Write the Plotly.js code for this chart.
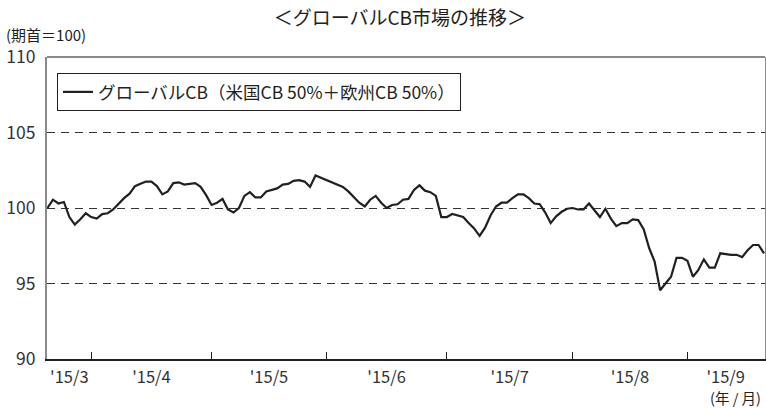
<!DOCTYPE html>
<html>
<head>
<meta charset="utf-8">
<script src="https://cdn.plot.ly/plotly-3.0.1.min.js"></script>
<style>html,body{margin:0;padding:0;background:#fff;}#chart{width:766px;height:408px;}</style>
</head>
<body>
<div id="chart"></div>
<script>
// Global CB index (start = 100), one value per business day
const values = [
  100.0, 100.55, 100.3, 100.4, 99.4, 98.9, 99.25, 99.65, 99.4, 99.3,
  99.6, 99.65, 99.9, 100.3, 100.65, 100.95, 101.45, 101.6, 101.75, 101.75,
  101.45, 100.9, 101.1, 101.65, 101.7, 101.55, 101.6, 101.65, 101.4, 100.85,
  100.2, 100.35, 100.6, 99.9, 99.7, 100.0, 100.8, 101.05, 100.7, 100.7,
  101.1, 101.2, 101.3, 101.55, 101.6, 101.8, 101.85, 101.75, 101.4, 102.15,
  102.0, 101.8, 101.7, 101.5, 101.4, 101.1, 100.75, 100.35, 100.1, 100.55,
  100.8, 100.35, 100.0, 100.2, 100.25, 100.55, 100.6, 101.2, 101.5, 101.15,
  101.05, 100.8, 99.4, 99.4, 99.6, 99.5, 99.4, 99.0, 98.65, 98.15,
  98.7, 99.5, 100.1, 100.35, 100.35, 100.65, 100.9, 100.9, 100.65, 100.3,
  100.25, 99.7, 99.0, 99.45, 99.75, 99.95, 100.0, 99.9, 99.9, 100.3,
  99.85, 99.4, 99.95, 99.3, 98.8, 99.0, 99.0, 99.25, 99.2, 98.6,
  97.35, 96.45, 94.55, 95.0, 95.45, 96.7, 96.7, 96.5, 95.45, 95.9,
  96.6, 96.05, 96.05, 97.0, 96.95, 96.9, 96.9, 96.75, 97.2, 97.55,
  97.55, 97.0
];
// Month labels and the business-day index at which each month starts
const monthLabels = ["'15/3", "'15/4", "'15/5", "'15/6", "'15/7", "'15/8", "'15/9"];
const monthStartIdx = [0, 8, 30, 51, 73, 96, 117];
const yTicks = [90, 95, 100, 105, 110];
const seriesName = "グローバルCB（米国CB 50%＋欧州CB 50%）";

const xIdx = values.map((v, i) => i);
const lastIdx = values.length - 1;
const boundaryTicks = monthStartIdx.slice(1);
const labelPos = monthStartIdx.map((s, i) => (s + (i + 1 < monthStartIdx.length ? monthStartIdx[i + 1] : lastIdx)) / 2);

const FONT = '"Noto Sans CJK JP", "Noto Sans", sans-serif';
const TXT = '#231f20';
const xRange = [-0.09, 131.18];

const data = [{
  x: xIdx, y: values, type: 'scatter', mode: 'lines', name: seriesName,
  line: {color: TXT, width: 2.2}, xaxis: 'x', yaxis: 'y'
}];

const layout = {
  width: 766, height: 408,
  margin: {l: 47, r: 1, t: 57, b: 49},
  paper_bgcolor: '#fff', plot_bgcolor: '#fff',
  font: {family: FONT, color: TXT, size: 16},
  title: {text: '＜グローバルCB市場の推移＞', font: {family: FONT, size: 19, color: TXT},
          x: 0.522, xref: 'container', xanchor: 'center', y: 0.955, yref: 'container', yanchor: 'middle'},
  showlegend: true,
  legend: {x: 0.0139, y: 0.947, xanchor: 'left', yanchor: 'top', bgcolor: '#fff',
           bordercolor: TXT, borderwidth: 1, font: {family: FONT, size: 17.5, color: TXT}},
  xaxis: {
    range: xRange, tickmode: 'array', tickvals: boundaryTicks, ticktext: boundaryTicks.map(() => ''),
    ticks: 'inside', ticklen: 7, tickwidth: 1, tickcolor: TXT,
    showgrid: false, zeroline: false, showline: true, linecolor: TXT, linewidth: 1.5,
    showticklabels: false, fixedrange: true
  },
  xaxis2: {
    overlaying: 'x', range: xRange, tickmode: 'array', tickvals: labelPos, ticktext: monthLabels,
    ticks: '', side: 'bottom', showgrid: false, zeroline: false, showline: false,
    tickfont: {family: FONT, size: 16.5, color: '#333'}, anchor: 'y', ticklabelstandoff: 6
  },
  yaxis: {
    range: [90, 110], tickmode: 'array', tickvals: yTicks, ticks: '',
    showgrid: true, gridcolor: '#333', gridwidth: 1, griddash: '8px,6px',
    zeroline: false, showline: true, linecolor: '#8a8a8a', linewidth: 2, mirror: true,
    tickfont: {family: FONT, size: 17.5, color: '#333'}, ticklabelstandoff: 6, fixedrange: true
  },
  shapes: [
    {type: 'line', xref: 'paper', yref: 'paper', x0: 0, x1: 1, y0: 1, y1: 1, line: {color: '#8a8a8a', width: 2}}
  ],
  annotations: [
    {text: '(期首＝100)', xref: 'paper', yref: 'paper', x: -0.06, y: 1.076, xanchor: 'left', yanchor: 'middle',
     showarrow: false, font: {family: FONT, size: 15, color: TXT}},
    {text: '(年 / 月)', xref: 'paper', yref: 'paper', x: 0.997, y: -0.127, xanchor: 'right', yanchor: 'middle',
     showarrow: false, font: {family: FONT, size: 14.5, color: TXT}}
  ]
};

// dummy trace so xaxis2 is drawn
data.push({x: [0], y: [null], xaxis: 'x2', yaxis: 'y', showlegend: false, hoverinfo: 'skip', type: 'scatter', mode: 'lines'});

Plotly.newPlot('chart', data, layout, {displayModeBar: false, staticPlot: true});
</script>
</body>
</html>
